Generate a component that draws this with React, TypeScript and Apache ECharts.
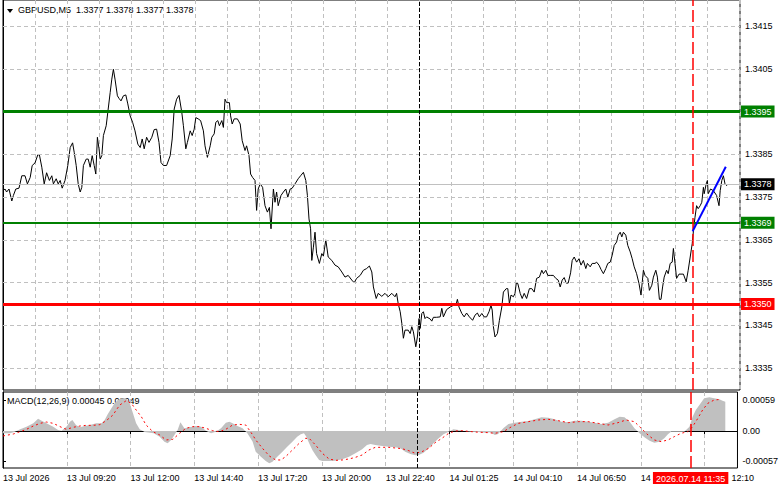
import React, { useEffect, useRef } from "react";
import * as echarts from "echarts";

// time axis: minutes since the first bar (13 Jul 06:40), M5 bars
const priceLine: [number, number][] = [
  [0, 1.33765], [5, 1.33769], [9, 1.33762], [15, 1.33769], [22, 1.33741], [26, 1.33754], [32, 1.33769], [40, 1.33771],
  [47, 1.338], [55, 1.338], [61, 1.33781], [68, 1.33796], [73, 1.33824], [80, 1.3383], [87, 1.33849], [91, 1.33849],
  [97, 1.3382], [103, 1.33781], [109, 1.33807], [116, 1.33789], [122, 1.338], [126, 1.33781], [133, 1.33793], [138, 1.33781],
  [143, 1.33789], [148, 1.33771], [155, 1.33789], [162, 1.33824], [168, 1.33866], [174, 1.33877], [178, 1.33855], [183, 1.33824],
  [188, 1.33781], [193, 1.33762], [197, 1.33773], [201, 1.33824], [208, 1.33839], [213, 1.33839], [218, 1.3382], [223, 1.33847],
  [228, 1.33824], [232, 1.33804], [236, 1.3389], [240, 1.33863], [243, 1.33839], [247, 1.33847], [251, 1.33894], [258, 1.33917],
  [263, 1.33956], [268, 1.33995], [272, 1.34026], [276, 1.34049], [280, 1.34026], [286, 1.33987], [290, 1.33981], [295, 1.33975],
  [301, 1.33987], [307, 1.33989], [312, 1.33968], [318, 1.3394], [324, 1.33925], [330, 1.33905], [337, 1.33874], [343, 1.33866],
  [348, 1.33886], [353, 1.33863], [359, 1.3389], [365, 1.33878], [372, 1.3389], [378, 1.33908], [384, 1.33909], [390, 1.33878],
  [395, 1.33831], [401, 1.33824], [409, 1.33824], [418, 1.33847], [423, 1.33886], [428, 1.33956], [434, 1.33979], [440, 1.33988],
  [447, 1.33948], [451, 1.33917], [457, 1.33863], [461, 1.33878], [468, 1.33905], [473, 1.33894], [478, 1.33909], [482, 1.33936],
  [488, 1.33933], [494, 1.33929], [501, 1.33905], [505, 1.3387], [511, 1.33843], [518, 1.3387], [522, 1.3389], [528, 1.33898],
  [532, 1.33925], [537, 1.33929], [541, 1.33917], [547, 1.33929], [551, 1.33913], [555, 1.33979], [559, 1.33971], [566, 1.33971],
  [569, 1.3394], [573, 1.33921], [578, 1.33933], [586, 1.33933], [593, 1.33921], [598, 1.33882], [605, 1.33859], [609, 1.3387],
  [615, 1.33847], [619, 1.33804], [624, 1.33796], [630, 1.33789], [634, 1.33719], [638, 1.33769], [643, 1.33781], [649, 1.33773],
  [655, 1.3373], [661, 1.33715], [666, 1.33726], [670, 1.33676], [676, 1.33769], [680, 1.33738], [684, 1.33762], [688, 1.3373],
  [695, 1.33754], [701, 1.33762], [707, 1.33769], [712, 1.3375], [718, 1.33769], [723, 1.33771], [730, 1.33781], [738, 1.33793],
  [744, 1.338], [751, 1.33808], [757, 1.33789], [761, 1.33754], [765, 1.33699], [769, 1.33676], [772, 1.33602], [776, 1.33633],
  [780, 1.33668], [784, 1.33618], [791, 1.33595], [797, 1.33618], [801, 1.33612], [807, 1.3365], [813, 1.3361], [822, 1.33602],
  [830, 1.33591], [838, 1.33587], [847, 1.33575], [855, 1.33563], [863, 1.33567], [872, 1.33556], [878, 1.3355], [884, 1.3356],
  [893, 1.33567], [901, 1.33579], [909, 1.33583], [916, 1.33589], [922, 1.33575], [926, 1.3354], [933, 1.33513], [938, 1.33525],
  [947, 1.33518], [955, 1.33525], [963, 1.33517], [972, 1.33525], [980, 1.33517], [984, 1.33525], [988, 1.33501], [993, 1.33482],
  [997, 1.33455], [1001, 1.3342], [1005, 1.33439], [1013, 1.33439], [1018, 1.33431], [1022, 1.33447], [1026, 1.33435], [1032, 1.334],
  [1036, 1.33423], [1040, 1.33466], [1043, 1.33443], [1047, 1.33478], [1051, 1.33482], [1055, 1.33466], [1059, 1.3347], [1068, 1.33465],
  [1072, 1.3346], [1076, 1.33469], [1084, 1.33469], [1093, 1.3347], [1097, 1.3349], [1101, 1.3347], [1109, 1.33487], [1118, 1.33493],
  [1126, 1.33497], [1133, 1.335], [1136, 1.33511], [1140, 1.33493], [1147, 1.33478], [1153, 1.3347], [1159, 1.33479], [1166, 1.3347],
  [1174, 1.33462], [1180, 1.33474], [1186, 1.33479], [1191, 1.3347], [1197, 1.33478], [1203, 1.3347], [1209, 1.3347], [1215, 1.33482],
  [1220, 1.33497], [1223, 1.33486], [1226, 1.33447], [1230, 1.33423], [1236, 1.33431], [1241, 1.33462], [1247, 1.33493], [1251, 1.33528],
  [1258, 1.33536], [1262, 1.33536], [1266, 1.33501], [1270, 1.33521], [1276, 1.33517], [1280, 1.33525], [1283, 1.33548], [1287, 1.33548],
  [1293, 1.33525], [1298, 1.33513], [1303, 1.33525], [1309, 1.33513], [1316, 1.33536], [1322, 1.33536], [1328, 1.33528], [1334, 1.3356],
  [1341, 1.33563], [1347, 1.33579], [1351, 1.33571], [1357, 1.33579], [1362, 1.33567], [1368, 1.33567], [1376, 1.33567], [1382, 1.3356],
  [1388, 1.33556], [1393, 1.3354], [1398, 1.33556], [1403, 1.33562], [1408, 1.33549], [1413, 1.33549], [1419, 1.33573], [1423, 1.33602],
  [1428, 1.3361], [1434, 1.33598], [1440, 1.33606], [1445, 1.33591], [1451, 1.33602], [1457, 1.33583], [1461, 1.33595], [1468, 1.33587],
  [1473, 1.33595], [1480, 1.33595], [1484, 1.33598], [1490, 1.33591], [1495, 1.33581], [1501, 1.33571], [1507, 1.33583], [1512, 1.33595],
  [1518, 1.33598], [1523, 1.33614], [1528, 1.33637], [1534, 1.33645], [1538, 1.33661], [1543, 1.33668], [1547, 1.33657], [1551, 1.33668],
  [1557, 1.33661], [1562, 1.33637], [1568, 1.33622], [1573, 1.33606], [1578, 1.33587], [1584, 1.33571], [1590, 1.33548], [1595, 1.33521],
  [1601, 1.33579], [1605, 1.33567], [1612, 1.3356], [1616, 1.33532], [1622, 1.33544], [1626, 1.33563], [1632, 1.33579], [1636, 1.33563],
  [1641, 1.33511], [1645, 1.33511], [1649, 1.3354], [1653, 1.33563], [1659, 1.33579], [1663, 1.33571], [1668, 1.33595], [1673, 1.33598],
  [1676, 1.3363], [1680, 1.33595], [1684, 1.3356], [1690, 1.3357], [1701, 1.3357], [1708, 1.33552], [1713, 1.33579], [1718, 1.3361],
  [1723, 1.33641], [1727, 1.3368], [1730, 1.33703], [1734, 1.3373], [1738, 1.33723], [1743, 1.3373], [1747, 1.33738], [1751, 1.33773],
  [1753, 1.33758], [1758, 1.33781], [1761, 1.33789], [1763, 1.33758], [1769, 1.33769], [1776, 1.33765], [1784, 1.33754], [1790, 1.3373],
  [1793, 1.33765], [1797, 1.33789], [1801, 1.338], [1805, 1.33781], [1809, 1.33777], [1811, 1.3378],
];

const macdHist: [number, number][] = [
  [0, -0.000044], [18, -0.000044], [30, -0.000013], [43, 0.000032], [59, 0.000083], [76, 0.000146], [88, 0.000235], [97, 0.000197],
  [109, 0.000146], [126, 0.000083], [138, 0.000019], [147, 0.000006], [159, 0.000083], [168, 0.000178], [174, 0.00021], [183, 0.000114],
  [193, 0.00007], [205, 0.000095], [218, 0.000114], [234, 0.000146], [247, 0.000146], [255, 0.00021], [263, 0.000324], [272, 0.000432],
  [280, 0.000527], [288, 0.00059], [297, 0.000622], [309, 0.000622], [318, 0.000527], [326, 0.000337], [334, 0.000146], [343, 0.000032],
  [355, -0.000019], [378, -0.000044], [393, -0.000108], [405, -0.000203], [413, -0.000235], [422, -0.000171], [430, -0.000076], [438, 0.000019],
  [445, 0.000165], [455, 0.000051], [468, 0.00007], [484, 0.000095], [497, 0.000083], [509, 0.000006], [522, -0.000044], [534, -0.000013],
  [547, 0.000051], [559, 0.000159], [568, 0.000178], [576, 0.000146], [588, 0.000095], [601, 0.000051], [613, -0.000044], [626, -0.0002],
  [634, -0.000394], [647, -0.000489], [659, -0.000571], [668, -0.000616], [676, -0.000584], [688, -0.000489], [701, -0.000394], [713, -0.000298],
  [726, -0.000203], [738, -0.000108], [747, -0.000063], [755, -0.000044], [761, -0.000108], [768, -0.000235], [776, -0.000362], [784, -0.000457],
  [793, -0.000552], [801, -0.000571], [818, -0.000571], [834, -0.000565], [851, -0.00054], [868, -0.000489], [884, -0.000425], [901, -0.000349],
  [913, -0.000267], [922, -0.000248], [934, -0.000267], [951, -0.000286], [968, -0.000298], [984, -0.000311], [997, -0.00033], [1009, -0.000394],
  [1022, -0.000438], [1034, -0.000463], [1043, -0.000457], [1055, -0.000413], [1068, -0.00033], [1080, -0.000235], [1093, -0.00014], [1105, -0.000063],
  [1118, -0.000013], [1130, 0.000032], [1143, 0.000019], [1159, 0], [1176, -0.000013], [1193, -0.000019], [1209, -0.000032], [1222, -0.000025],
  [1234, -0.000076], [1242, -0.000057], [1255, 0.000051], [1268, 0.000133], [1284, 0.000159], [1301, 0.000178], [1318, 0.00019], [1334, 0.000222],
  [1351, 0.00026], [1368, 0.000254], [1384, 0.000222], [1401, 0.000178], [1418, 0.000165], [1434, 0.000197], [1451, 0.000197], [1468, 0.000178],
  [1484, 0.000159], [1501, 0.000133], [1518, 0.000159], [1534, 0.000222], [1547, 0.000273], [1559, 0.00026], [1572, 0.000178], [1584, 0.000051],
  [1597, -0.000044], [1609, -0.000121], [1622, -0.000184], [1634, -0.000222], [1647, -0.000203], [1659, -0.00014], [1668, -0.000063], [1676, -0.000013],
  [1693, -0.000013], [1709, -0.000013], [1722, 0.000083], [1730, 0.000273], [1738, 0.0004], [1747, 0.000495], [1759, 0.000622], [1772, 0.000641],
  [1784, 0.000622], [1797, 0.000603], [1805, 0.000578], [1812, 0.000559],
];

const macdSignal: [number, number][] = [
  [0, -0.000095], [26, -0.000057], [43, -0.000013], [59, 0.000032], [76, 0.000095], [93, 0.000146], [109, 0.000171], [126, 0.000146],
  [143, 0.000083], [159, 0.000032], [176, 0.00007], [193, 0.000095], [209, 0.000108], [226, 0.000108], [243, 0.000121], [259, 0.000197],
  [276, 0.000305], [284, 0.0004], [293, 0.000495], [309, 0.000578], [322, 0.000527], [334, 0.0004], [347, 0.000273], [359, 0.000114],
  [376, -0.000013], [393, -0.000076], [409, -0.000171], [426, -0.000159], [443, -0.000044], [459, 0.000051], [476, 0.000083], [493, 0.000083],
  [509, 0.000051], [526, 0.000006], [543, -0.000013], [559, 0.000032], [576, 0.000114], [593, 0.000127], [609, 0.000114], [626, -0.00007],
  [634, -0.000171], [651, -0.00033], [668, -0.000476], [684, -0.000552], [697, -0.000552], [709, -0.000489], [726, -0.000362], [743, -0.000235],
  [759, -0.00014], [768, -0.00014], [784, -0.000267], [801, -0.000425], [818, -0.000533], [834, -0.000559], [851, -0.000552], [868, -0.000533],
  [884, -0.000502], [901, -0.000457], [918, -0.000362], [934, -0.000311], [968, -0.000311], [1001, -0.000337], [1018, -0.000375], [1034, -0.000425],
  [1051, -0.000394], [1068, -0.00033], [1084, -0.000222], [1101, -0.00014], [1118, -0.000044], [1134, 0], [1151, 0.000006], [1184, -0.000019],
  [1218, -0.000032], [1234, -0.000044], [1255, -0.000013], [1276, 0.000083], [1293, 0.000146], [1318, 0.000178], [1343, 0.00021], [1368, 0.000222],
  [1393, 0.000197], [1418, 0.000159], [1443, 0.000178], [1468, 0.000178], [1493, 0.000146], [1518, 0.000114], [1543, 0.000159], [1563, 0.00021],
  [1584, 0.000178], [1601, 0.000051], [1618, -0.000076], [1634, -0.000171], [1651, -0.000203], [1668, -0.000171], [1684, -0.000108], [1701, -0.000044],
  [1718, -0.000013], [1730, 0.000083], [1743, 0.000241], [1755, 0.0004], [1768, 0.000527], [1784, 0.00059], [1801, 0.000603],
];

const trendLine: [number, number][] = [[1724, 1.3367], [1807, 1.33821]];

const priceTicks = [1.3335, 1.3345, 1.3355, 1.3365, 1.3375, 1.3385, 1.3395, 1.3405, 1.3415];
const macdTicks = [-0.00057, 0, 0.00059];
const timeTickPos = [0, 160, 320, 480, 640, 800, 960, 1120, 1280, 1440, 1600, 1760];
// the last two labels are partly hidden by the cursor's time box: only the visible parts are shown
const timeLabels = [
  "13 Jul 2026", "13 Jul 09:20", "13 Jul 12:00", "13 Jul 14:40", "13 Jul 17:20", "13 Jul 20:00",
  "13 Jul 22:40", "14 Jul 01:25", "14 Jul 04:10", "14 Jul 06:50", "14", "12:10",
];

const resistanceLevel = 1.3395;
const entryLevel = 1.3369;
const supportLevel = 1.335;
const bidPrice = 1.3378;
const daySeparator = 1040;
const cursorTime = 1725;
const cursorLabel = "2026.07.14 11:35";
const headerText = "GBPUSD,M5  1.3377 1.3378 1.3377 1.3378";
const macdText = "MACD(12,26,9) 0.00045 0.00049";

const FONT = "'Liberation Sans', Arial, sans-serif";
const FS = 9;

const boxLabel = (bg: string, value: number) => ({
  show: true,
  position: "end",
  distance: 1,
  formatter: value.toFixed(4),
  backgroundColor: bg,
  color: "#fff",
  padding: [2, 3, 1, 3],
  fontSize: FS,
  fontFamily: FONT,
});

export default function App() {
  const ref = useRef<HTMLDivElement>(null);
  useEffect(() => {
    if (!ref.current) return;
    const chart = echarts.init(ref.current, null, { renderer: "svg" });
    const gridDash = { color: "#c0c0c0", type: [4, 3], width: 1 };
    const hiddenLine = { opacity: 0, width: 0 };
    const option: any = {
      animation: false,
      backgroundColor: "#ffffff",
      grid: [
        { left: 3, top: -1, width: 737, height: 391, show: true, borderColor: "#000", borderWidth: 1, backgroundColor: "transparent" },
        { left: 3, top: 392, width: 737, height: 76, show: true, borderColor: "#000", borderWidth: 1, backgroundColor: "transparent" },
      ],
      xAxis: [
        {
          type: "value", gridIndex: 0, min: 0, max: 1842.5, interval: 80,
          axisLine: { show: false }, axisTick: { show: false }, axisLabel: { show: false },
          splitLine: { show: true, lineStyle: gridDash },
        },
        {
          type: "value", gridIndex: 1, min: 0, max: 1842.5, interval: 80,
          axisLine: { show: true, lineStyle: { color: "#000", width: 1 } },
          axisTick: { show: true, customValues: timeTickPos, length: 3, lineStyle: { color: "#000" } },
          axisLabel: {
            show: true, customValues: timeTickPos, align: "left", margin: 5, color: "#000",
            fontSize: FS, fontFamily: FONT,
            formatter: (v: number) => {
              const i = timeTickPos.indexOf(Math.round(v));
              if (i < 0) return "";
              return i === timeLabels.length - 1 ? "{shift|" + timeLabels[i] + "}" : timeLabels[i];
            },
            rich: { shift: { padding: [0, 0, 0, 27], fontSize: FS, fontFamily: FONT, color: "#000" } },
          },
          splitLine: { show: true, lineStyle: gridDash },
        },
      ],
      yAxis: [
        {
          type: "value", gridIndex: 0, position: "right", min: 1.33299, max: 1.34211,
          axisLine: { show: true, lineStyle: { color: "#000" } },
          axisTick: { show: true, customValues: priceTicks, length: 3, lineStyle: { color: "#000" } },
          axisLabel: {
            customValues: priceTicks, margin: 5, color: "#000", fontSize: FS, fontFamily: FONT,
            formatter: (v: number) => v.toFixed(4),
          },
          splitLine: { show: false },
        },
        {
          type: "value", gridIndex: 1, position: "right", min: -0.000705, max: 0.000743,
          axisLine: { show: true, lineStyle: { color: "#000" } },
          axisTick: { show: true, customValues: macdTicks, length: 3, lineStyle: { color: "#000" } },
          axisLabel: {
            customValues: macdTicks, margin: 5, color: "#000", fontSize: FS, fontFamily: FONT,
            formatter: (v: number) => (Math.abs(v) < 1e-9 ? "0.00" : v.toFixed(5)),
          },
          splitLine: { show: false },
        },
      ],
      series: [
        {
          name: "grid", type: "line", xAxisIndex: 0, yAxisIndex: 0, data: priceLine, z: 1, silent: true,
          symbol: "none", lineStyle: hiddenLine,
          markLine: {
            silent: true, symbol: "none", precision: 6, label: { show: false },
            lineStyle: gridDash,
            data: priceTicks.map((v) => ({ yAxis: v })),
          },
        },
        {
          name: "bid", type: "line", xAxisIndex: 0, yAxisIndex: 0, data: priceLine, z: 2, silent: true,
          symbol: "none", lineStyle: hiddenLine,
          markLine: {
            silent: true, symbol: "none", precision: 6,
            data: [
              { yAxis: bidPrice, lineStyle: { color: "#c0c0c0", width: 1, type: "solid" }, label: boxLabel("#000000", bidPrice) },
            ],
          },
        },
        {
          name: "price", type: "line", xAxisIndex: 0, yAxisIndex: 0, data: priceLine, z: 3,
          symbol: "none", lineStyle: { color: "#000", width: 1 }, silent: true,
        },
        {
          name: "levels", type: "line", xAxisIndex: 0, yAxisIndex: 0, data: priceLine, z: 4, silent: true,
          symbol: "none", lineStyle: hiddenLine,
          markLine: {
            silent: true, symbol: "none", precision: 6,
            data: [
              { yAxis: resistanceLevel, lineStyle: { color: "#008000", width: 3, type: "solid" }, label: boxLabel("#008000", resistanceLevel) },
              { yAxis: entryLevel, lineStyle: { color: "#008000", width: 2, type: "solid" }, label: boxLabel("#008000", entryLevel) },
              { yAxis: supportLevel, lineStyle: { color: "#ff0000", width: 3, type: "solid" }, label: boxLabel("#ff0000", supportLevel) },
              { xAxis: daySeparator, lineStyle: { color: "#000", width: 1, type: [4, 2] }, label: { show: false } },
              { xAxis: cursorTime, lineStyle: { color: "#ff0000", width: 1.5, type: [12, 4] }, label: { show: false } },
            ],
          },
        },
        {
          name: "trend", type: "line", xAxisIndex: 0, yAxisIndex: 0, data: trendLine, z: 5,
          symbol: "none", lineStyle: { color: "#0000ff", width: 2 }, silent: true,
        },
        {
          name: "hist", type: "line", xAxisIndex: 1, yAxisIndex: 1, data: macdHist, z: 2,
          symbol: "none", lineStyle: { width: 0, color: "#c0c0c0" },
          areaStyle: { color: "#c0c0c0", opacity: 1 }, silent: true,
        },
        {
          name: "signal", type: "line", xAxisIndex: 1, yAxisIndex: 1, data: macdSignal, z: 3,
          symbol: "none", lineStyle: { color: "#ff0000", width: 1, type: [2, 3] }, silent: true,
        },
        {
          name: "macdLines", type: "line", xAxisIndex: 1, yAxisIndex: 1, data: macdSignal, z: 4, silent: true,
          symbol: "none", lineStyle: hiddenLine,
          markLine: {
            silent: true, symbol: "none", precision: 6,
            data: [
              { xAxis: daySeparator, lineStyle: { color: "#000", width: 1, type: [4, 2] }, label: { show: false } },
              {
                xAxis: cursorTime, lineStyle: { color: "#ff0000", width: 1.5, type: [12, 4] },
                label: {
                  show: true, position: "start", distance: 4, formatter: cursorLabel,
                  backgroundColor: "#ff0000", color: "#fff", padding: [2, 3, 1, 3],
                  fontSize: FS, fontFamily: FONT,
                },
              },
            ],
          },
        },
      ],
      graphic: [
        { type: "polygon", shape: { points: [[7, 9], [13, 9], [10, 13]] }, style: { fill: "#000" } },
        {
          type: "text", x: 18, y: 10,
          style: { text: headerText, fill: "#000", fontSize: FS, fontFamily: FONT, verticalAlign: "middle" },
        },
        {
          type: "text", x: 7, y: 401,
          style: { text: macdText, fill: "#000", fontSize: FS, fontFamily: FONT, verticalAlign: "middle" },
        },
      ],
    };
    chart.setOption(option);
    return () => chart.dispose();
  }, []);
  return (
    <div
      ref={ref}
      style={{ position: "fixed", left: 0, top: 0, width: 781, height: 489, background: "#fff" }}
    />
  );
}
